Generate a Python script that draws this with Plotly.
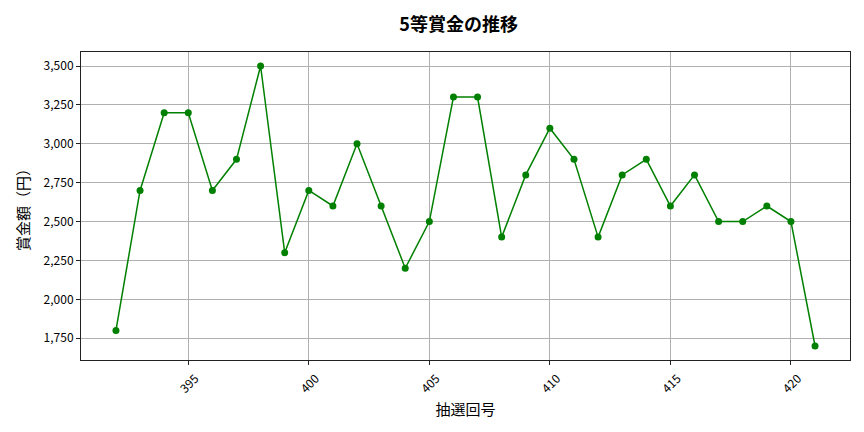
import plotly.graph_objects as go

draws = list(range(392, 422))
prizes = [1800, 2700, 3200, 3200, 2700, 2900, 3500, 2300, 2700, 2600,
          3000, 2600, 2200, 2500, 3300, 3300, 2400, 2800, 3100, 2900,
          2400, 2800, 2900, 2600, 2800, 2500, 2500, 2600, 2500, 1700]
x_ticks = [395, 400, 405, 410, 415, 420]
y_ticks = [1750, 2000, 2250, 2500, 2750, 3000, 3250, 3500]

font = "Noto Sans CJK JP"
W, H = 864, 432

fig = go.Figure()
fig.add_trace(go.Scatter(
    x=draws, y=prizes, mode="lines+markers",
    line=dict(color="green", width=1.5),
    marker=dict(color="green", size=7),
))

fig.update_layout(
    width=W, height=H,
    margin=dict(l=73, r=22, t=44, b=80, autoexpand=False),
    paper_bgcolor="white", plot_bgcolor="white",
    font=dict(family=font, color="black", size=12),
    showlegend=False,
    title=dict(text="<b>5等賞金の推移</b>", x=0.491, xanchor="center", xref="paper",
               y=1 - 17 / H, yanchor="middle", font=dict(size=18, family=font)),
    xaxis=dict(
        range=[390.55, 422.45], tickvals=x_ticks, tickangle=-45,
        ticklabelshift=7, ticklabelstandoff=2,
        showgrid=True, gridcolor="#b0b0b0", gridwidth=0.8,
        showline=True, linecolor="#222", linewidth=1, mirror=True,
        ticks="outside", ticklen=4, tickcolor="#222", zeroline=False,
        title=dict(text="抽選回号", font=dict(size=15), standoff=9),
    ),
    yaxis=dict(
        range=[1610, 3590], tickvals=y_ticks, tickformat=",",
        showgrid=True, gridcolor="#b0b0b0", gridwidth=0.8,
        showline=True, linecolor="#222", linewidth=1, mirror=True,
        ticks="outside", ticklen=4, tickcolor="#222", zeroline=False,
        title=dict(text="賞金額（円）", font=dict(size=15), standoff=10),
    ),
)

fig.write_html("out.html")
